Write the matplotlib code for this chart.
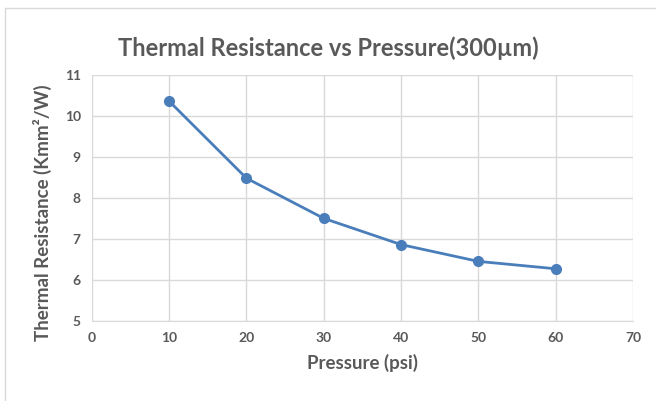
import matplotlib
matplotlib.use("Agg")
import matplotlib.pyplot as plt
from matplotlib.patches import Rectangle

pressure = [10, 20, 30, 40, 50, 60]
resistance = [10.36, 8.48, 7.50, 6.86, 6.45, 6.27]
x_ticks = [0, 10, 20, 30, 40, 50, 60, 70]
y_ticks = [5, 6, 7, 8, 9, 10, 11]

plt.rcParams['font.family'] = ['Lato', 'DejaVu Sans']
text_color = '#595959'
grid_color = '#d9d9d9'
line_color = '#4a7ebb'

fig = plt.figure(figsize=(6.56, 4.01), dpi=100)
ax = fig.add_axes([0.140, 0.200, 0.825, 0.613])

# chart frame like the spreadsheet chart area
fig.patches.append(Rectangle((5 / 656, -0.1), 1.2, 1.1 - 8 / 401, transform=fig.transFigure,
                             fill=False, edgecolor='#d9d9d9', linewidth=1.0))

ax.plot(pressure, resistance, color=line_color, linewidth=2, marker='o', markersize=7, zorder=3)

ax.set_xlim(0, 70)
ax.set_ylim(5, 11)
ax.set_xticks(x_ticks)
ax.set_yticks(y_ticks)
ax.grid(True, color=grid_color, linewidth=1)
ax.set_axisbelow(True)
for s in ['top', 'right', 'left']:
    ax.spines[s].set_visible(False)
ax.spines['bottom'].set_color(grid_color)
ax.tick_params(length=0, labelsize=10, labelcolor=text_color, pad=8)
for lbl in ax.get_xticklabels() + ax.get_yticklabels():
    lbl.set_fontweight('bold')

ax.set_xlabel('Pressure (psi)', fontsize=13.5, fontweight='bold', color=text_color, labelpad=7)
ax.set_ylabel('Thermal Resistance (Kmm²/W)', fontsize=13.5, fontweight='bold', color=text_color)
ax.yaxis.set_label_coords(-0.073, 0.44)
fig.text(0.5, 1 - 48 / 401, 'Thermal Resistance vs Pressure(300µm)', ha='center', va='center',
         fontsize=17, fontweight='bold', color=text_color)

fig.savefig('out.png', dpi=100)
